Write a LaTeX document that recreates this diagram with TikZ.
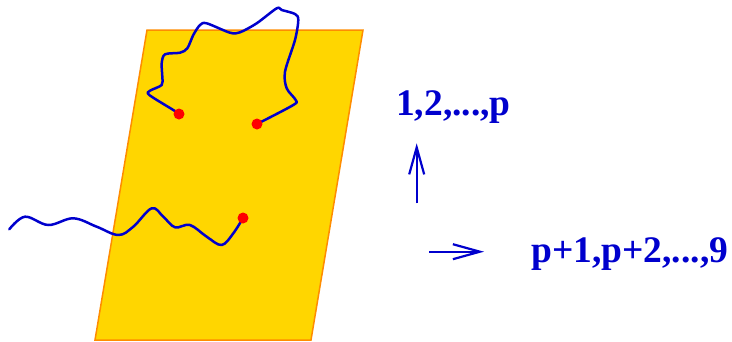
\documentclass[tikz,border=0pt]{standalone}
\usepackage{fontspec}
\setmainfont{Liberation Serif}
\usetikzlibrary{arrows.meta}
\definecolor{gold}{RGB}{255,214,0}
\definecolor{edgeorange}{RGB}{255,140,0}
\definecolor{strblue}{RGB}{0,0,205}
\definecolor{dotred}{RGB}{255,0,0}
\tikzset{
  brane/.style={fill=gold,draw=edgeorange,line width=1.5pt,line join=miter},
  string/.style={draw=strblue,line width=2.5pt,line cap=round,line join=round},
  endpt/.style={circle,fill=dotred,inner sep=0pt,minimum size=11pt},
  dirarrow/.style={draw=strblue,line width=2pt,-{Straight Barb[length=27pt,width=15pt,line width=2.2pt]}},
  label/.style={text=strblue,font=\bfseries\fontsize{37.5}{40}\selectfont,inner sep=0pt,anchor=base west}
}
\begin{document}
\begin{tikzpicture}[x=1pt,y=-1pt]
\useasboundingbox (0,0) rectangle (732,341);
\draw[brane] (147,30) -- (363,30) -- (311,340) -- (95,340) -- cycle;
\draw[string] plot[smooth,tension=0.5] coordinates {(179,114) (173.3,110) (149.3,95) (150,90.7) (161.7,85) (162.3,76.7) (161.7,63.3) (165,54.3) (180,52.7) (187.3,48.3) (193.3,35) (200,25) (206.7,23.3) (230,32.7) (240,32.3) (256.7,23.3) (276.7,8.3) (281.7,10) (295,14) (298.3,20) (295,40) (285,71.7) (286.7,88.3) (295.7,100) (293.3,105) (257,124)};
\draw[string] plot[smooth,tension=0.6] coordinates {(9.3,229.3) (25,216.7) (48.3,225) (73.3,218.3) (96.7,226.7) (118.3,235) (133.3,226.7) (151.7,208.3) (163.3,216.7) (175,227.3) (190,225) (206.7,236.7) (221.7,245) (233.3,233.3) (243,218)};
\node[endpt] (d1) at (179,114) {};
\node[endpt] (d2) at (257,124) {};
\node[endpt] (d3) at (243,218) {};
\coordinate (va) at (416.7,203.3);
\coordinate (vb) at (416.7,143.3);
\coordinate (ha) at (429.3,251.7);
\coordinate (hb) at (484,251.7);
\draw[dirarrow] (va) -- (vb);
\draw[dirarrow] (ha) -- (hb);
\node[label] (t1) at (396,115) {1,2,...,p};
\node[label] (t2) at (531,262) {p+1,p+2,...,9};
\end{tikzpicture}
\end{document}
